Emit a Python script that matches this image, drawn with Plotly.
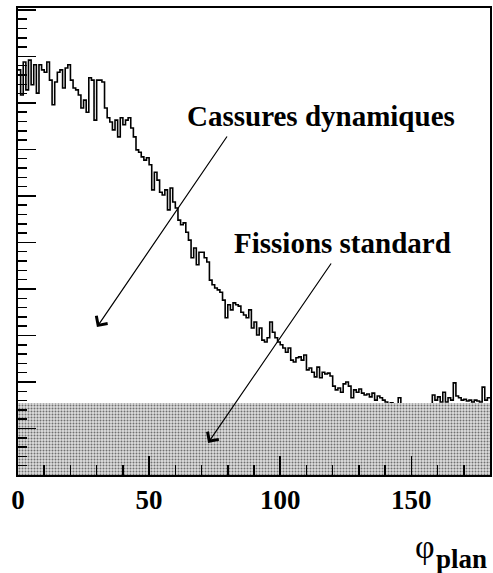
import plotly.graph_objects as go

# Histogram of phi_plan (1-degree bins, 0..180), arbitrary count units
bin_edges_start = list(range(0, 180))
counts = [
    871, 817, 888, 828, 892, 839, 882, 821, 882, 871,
    866, 888, 849, 796, 845, 866, 871, 832, 875, 882,
    849, 832, 828, 817, 789, 806, 780, 854, 849, 763,
    849, 849, 845, 789, 768, 759, 742, 763, 727, 768,
    753, 763, 768, 746, 727, 699, 694, 684, 677, 682,
    667, 613, 651, 634, 608, 602, 613, 570, 617, 587,
    574, 548, 538, 542, 522, 505, 467, 488, 452, 479,
    479, 467, 458, 419, 409, 402, 398, 393, 376, 338,
    366, 355, 370, 366, 363, 350, 344, 338, 355, 316,
    329, 301, 316, 290, 286, 295, 329, 307, 295, 286,
    280, 273, 264, 273, 247, 243, 252, 254, 247, 258,
    226, 230, 221, 211, 232, 209, 221, 217, 219, 213,
    191, 183, 187, 178, 196, 200, 191, 166, 183, 178,
    185, 176, 172, 174, 168, 176, 161, 170, 166, 161,
    157, 150, 155, 150, 140, 166, 150, 140, 140, 145,
    138, 142, 135, 148, 140, 138, 145, 142, 172, 161,
    168, 157, 178, 157, 166, 161, 198, 170, 166, 161,
    163, 159, 161, 157, 161, 159, 157, 189, 161, 166,
]
x_max = 180

# "Fissions standard" flat background band
band_x = [0, 180]
band_level = [155, 155]

x_tickvals = [0, 50, 100, 150]
x_ticktext = ["0", "50", "100", "150"]

step_x = bin_edges_start + [x_max]
step_y = counts + [counts[-1]]

fig = go.Figure()
fig.add_trace(go.Scatter(
    x=step_x, y=step_y, mode="lines", line=dict(shape="hv", color="black", width=1.6),
    hoverinfo="skip", showlegend=False,
))
fig.add_trace(go.Scatter(
    x=band_x, y=band_level, mode="lines", fill="tozeroy",
    line=dict(width=0, color="rgba(0,0,0,0)"),
    fillcolor="#d4d4d4",
    fillpattern=dict(shape=".", fgcolor="#707070", bgcolor="#dedede",
                     size=3, solidity=0.35, fillmode="replace"),
    hoverinfo="skip", showlegend=False,
))

serif = "Liberation Serif"
fig.update_layout(
    width=493, height=573,
    margin=dict(l=18, r=3, t=8, b=98, autoexpand=False),
    paper_bgcolor="white", plot_bgcolor="white",
    showlegend=False,
    xaxis=dict(
        range=[0, 180], showgrid=False, zeroline=False, automargin=False,
        showline=True, linecolor="black", linewidth=2, mirror=True,
        ticks="inside", ticklen=19, tickwidth=1.5, tickcolor="black",
        tickvals=x_tickvals, ticktext=x_ticktext,
        tickfont=dict(family=serif, size=27, color="black", weight="bold"),
        ticklabelstandoff=0,
        minor=dict(dtick=10, ticks="inside", ticklen=10, tickwidth=1.5, tickcolor="black"),
    ),
    yaxis=dict(
        range=[0, 1004], showgrid=False, zeroline=False, automargin=False,
        showline=True, linecolor="black", linewidth=2, mirror=True,
        ticks="inside", ticklen=18, tickwidth=1.5, tickcolor="black",
        dtick=100, showticklabels=False,
        minor=dict(dtick=20, ticks="inside", ticklen=9, tickwidth=1.5, tickcolor="black"),
    ),
    annotations=[
        dict(text="<b>Cassures dynamiques</b>", x=115.6, y=772, xref="x", yref="y",
             showarrow=False, xanchor="center", yanchor="middle",
             font=dict(family=serif, size=29, color="black")),
        dict(text="<b>Fissions standard</b>", x=123.8, y=499, xref="x", yref="y",
             showarrow=False, xanchor="center", yanchor="middle",
             font=dict(family=serif, size=29, color="black")),
        dict(text="", x=30.1, y=318, ax=80.1, ay=731, xref="x", yref="y",
             axref="x", ayref="y", showarrow=True, arrowhead=4, arrowsize=2.2,
             arrowwidth=1.2, arrowcolor="black", standoff=0),
        dict(text="", x=72.5, y=69, ax=119.8, ay=458, xref="x", yref="y",
             axref="x", ayref="y", showarrow=True, arrowhead=4, arrowsize=2.2,
             arrowwidth=1.2, arrowcolor="black", standoff=0),
        dict(text="φ", x=0.862, y=-0.154, xref="paper", yref="paper",
             showarrow=False, xanchor="center", yanchor="middle",
             font=dict(family=serif, size=34, color="black")),
        dict(text="<b>plan</b>", x=0.997, y=-0.18, xref="paper", yref="paper",
             showarrow=False, xanchor="right", yanchor="middle",
             font=dict(family=serif, size=27, color="black")),
    ],
)

fig.write_html(
    "out.html",
    config={"displayModeBar": False, "staticPlot": True},
    post_script="document.body.style.margin='0';document.body.style.padding='0';"
                "document.body.style.overflow='hidden';",
)
